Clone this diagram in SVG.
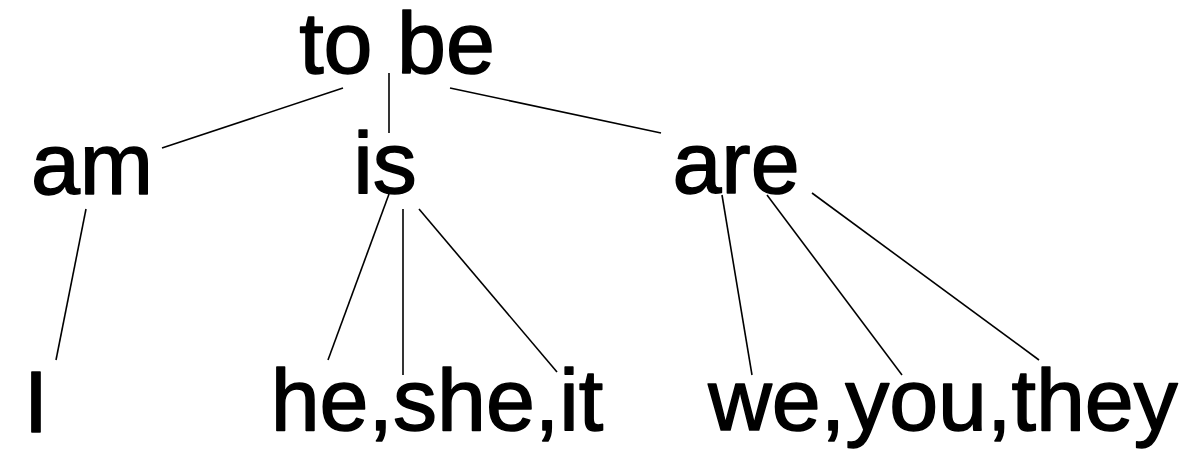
<svg xmlns="http://www.w3.org/2000/svg" width="1186" height="457" viewBox="0 0 1186 457">
  <style>
    .lbl { font-family: "Liberation Sans", Arial, sans-serif; font-size: 88px; fill: #000; stroke: #000; stroke-width: 1.5; stroke-linejoin: round; }
    .edge { stroke: #000; stroke-width: 1.6; fill: none; stroke-linecap: butt; }
  </style>
  <rect width="1186" height="457" fill="#fff"/>
  <g id="connectors">
    <line class="edge" x1="343" y1="88" x2="162" y2="148"/>
    <line class="edge" x1="389" y1="73" x2="389" y2="133"/>
    <line class="edge" x1="450" y1="88" x2="661" y2="133"/>
    <line class="edge" x1="86" y1="209" x2="56" y2="360"/>
    <line class="edge" x1="389" y1="194" x2="328" y2="360"/>
    <line class="edge" x1="403" y1="209" x2="403" y2="375"/>
    <line class="edge" x1="419" y1="209" x2="557" y2="372"/>
    <line class="edge" x1="722" y1="195" x2="752" y2="375"/>
    <line class="edge" x1="767" y1="195" x2="902" y2="375"/>
    <line class="edge" x1="812" y1="193" x2="1039" y2="360"/>
  </g>
  <g id="node-tobe"><text class="lbl" x="397" y="73" text-anchor="middle">to be</text></g>
  <g id="node-am"><text class="lbl" x="92" y="194" text-anchor="middle">am</text></g>
  <g id="node-is"><text class="lbl" x="385" y="193" text-anchor="middle">is</text></g>
  <g id="node-are"><text class="lbl" x="736" y="193" text-anchor="middle">are</text></g>
  <g id="node-I"><text class="lbl" x="36" y="432" text-anchor="middle">I</text></g>
  <g id="node-heshesit"><text class="lbl" x="437" y="430" text-anchor="middle">he,she,it</text></g>
  <g id="node-weyouthey"><text class="lbl" x="943" y="430" text-anchor="middle">we,you,they</text></g>
</svg>
